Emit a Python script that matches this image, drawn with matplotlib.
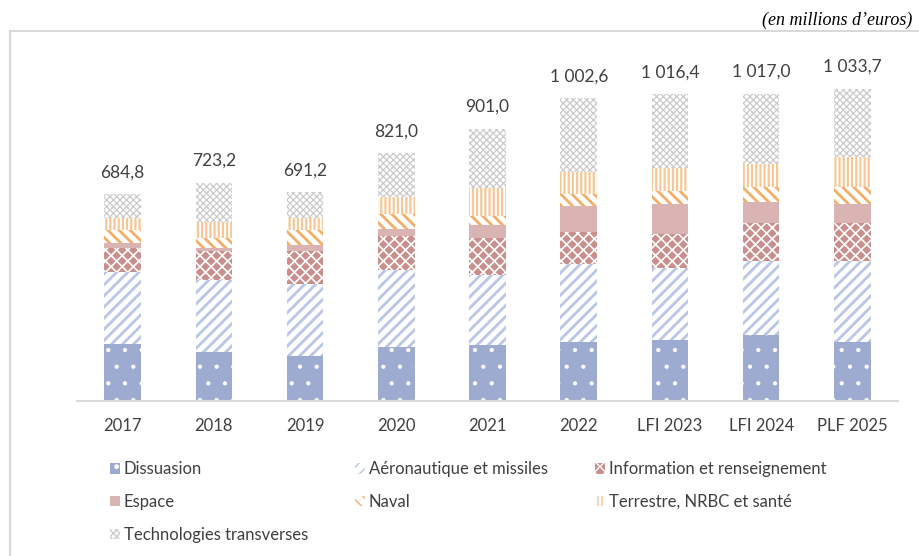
import matplotlib
matplotlib.use('Agg')
import matplotlib.pyplot as plt
from matplotlib.patches import Patch
from matplotlib.lines import Line2D

plt.rcParams['font.family'] = ['Lato', 'DejaVu Sans']

years = ['2017', '2018', '2019', '2020', '2021', '2022', 'LFI 2023', 'LFI 2024', 'PLF 2025']
totals = [684.8, 723.2, 691.2, 821.0, 901.0, 1002.6, 1016.4, 1017.0, 1033.7]

dissuasion = [188, 162, 149, 179, 187, 195, 203, 218, 195]
aero = [239, 240, 240, 256, 230, 260, 238, 245, 268]
info = [81, 94, 108, 110, 124, 105, 113, 127, 126]
espace = [15, 12, 21, 24, 41, 86, 99, 68, 64]
naval = [42, 33, 47, 51, 30, 41, 41, 49, 57]
terrestre = [41, 52, 42, 57, 94, 72, 78, 79, 99]
# le reste = technologies transverses
techno = [t - (a + b + c + d + e + f) for t, a, b, c, d, e, f in
          zip(totals, dissuasion, aero, info, espace, naval, terrestre)]

# nom, valeurs, fond, couleur du motif, motif, epaisseur du motif
series = [
    ('Dissuasion', dissuasion, '#9EABD0', 'white', '.', 0.6),
    ('Aéronautique et missiles', aero, 'white', '#BAC6E6', '///', 2.0),
    ('Information et renseignement', info, '#C98F8C', 'white', 'xxx', 1.2),
    ('Espace', espace, '#DAB4B3', '#DAB4B3', '', 1.0),
    ('Naval', naval, 'white', '#F4AE66', '\\\\\\', 2.0),
    ('Terrestre, NRBC et santé', terrestre, 'white', '#F8C797', '||||', 1.6),
    ('Technologies transverses', techno, 'white', '#CACACA', 'xxxxx', 0.9),
]

fig = plt.figure(figsize=(9.19, 5.56), dpi=100)
ax = fig.add_axes([77 / 919, 155 / 556, 821 / 919, 332.2 / 556])

x = list(range(len(years)))
bottom = [0] * len(years)
handles = {}
for name, vals, face, hcol, hatch, hlw in series:
    with plt.rc_context({'hatch.linewidth': hlw}):
        bars = ax.bar(x, vals, 0.4, bottom=bottom, color=face, edgecolor=hcol,
                      hatch=hatch, linewidth=0)
        handles[name] = Patch(facecolor=face, edgecolor=hcol, hatch=hatch, linewidth=0)
    for p in list(bars) + [handles[name]]:
        if hasattr(p, 'set_hatch_linewidth'):
            p.set_hatch_linewidth(hlw)
    bottom = [b + v for b, v in zip(bottom, vals)]

for i, t in enumerate(totals):
    lab = f'{t:,.1f}'.replace(',', ' ').replace('.', ',')
    ax.annotate(lab, (i, t), xytext=(0, 10), textcoords='offset points',
                ha='center', va='bottom', fontsize=12.5, color='#404040')

ax.set_xlim(-0.5, len(years) - 0.5)
ax.set_ylim(0, 1100)
ax.set_xticks(x)
ax.set_xticklabels(years, fontsize=12, color='#404040')
ax.tick_params(axis='x', length=0, pad=12)
ax.set_yticks([])
for s in ['top', 'right', 'left']:
    ax.spines[s].set_visible(False)
ax.spines['bottom'].set_color('#D9D9D9')
ax.spines['bottom'].set_linewidth(1.5)

order = ['Dissuasion', 'Espace', 'Technologies transverses',
         'Aéronautique et missiles', 'Naval',
         'Information et renseignement', 'Terrestre, NRBC et santé']
fig.legend([handles[n] for n in order], order, ncol=3, frameon=False,
           loc='upper left', bbox_to_anchor=(102 / 919, 1 - 453 / 556),
           fontsize=12, labelcolor='#404040', handlelength=0.6, handleheight=0.6,
           handletextpad=0.2, columnspacing=2.85, labelspacing=1.0, borderpad=0)

# cadre
fig.add_artist(Line2D([10 / 919, 1], [1 - 31 / 556] * 2, color='#D9D9D9', lw=1.5))
fig.add_artist(Line2D([10 / 919] * 2, [0, 1 - 31 / 556], color='#D9D9D9', lw=1.5))
fig.text(912 / 919, 1 - 20 / 556, '(en millions d\u2019euros)', ha='right', va='center',
         family='Liberation Serif', style='italic', fontsize=13, color='black')

fig.savefig('out.png', dpi=100)
